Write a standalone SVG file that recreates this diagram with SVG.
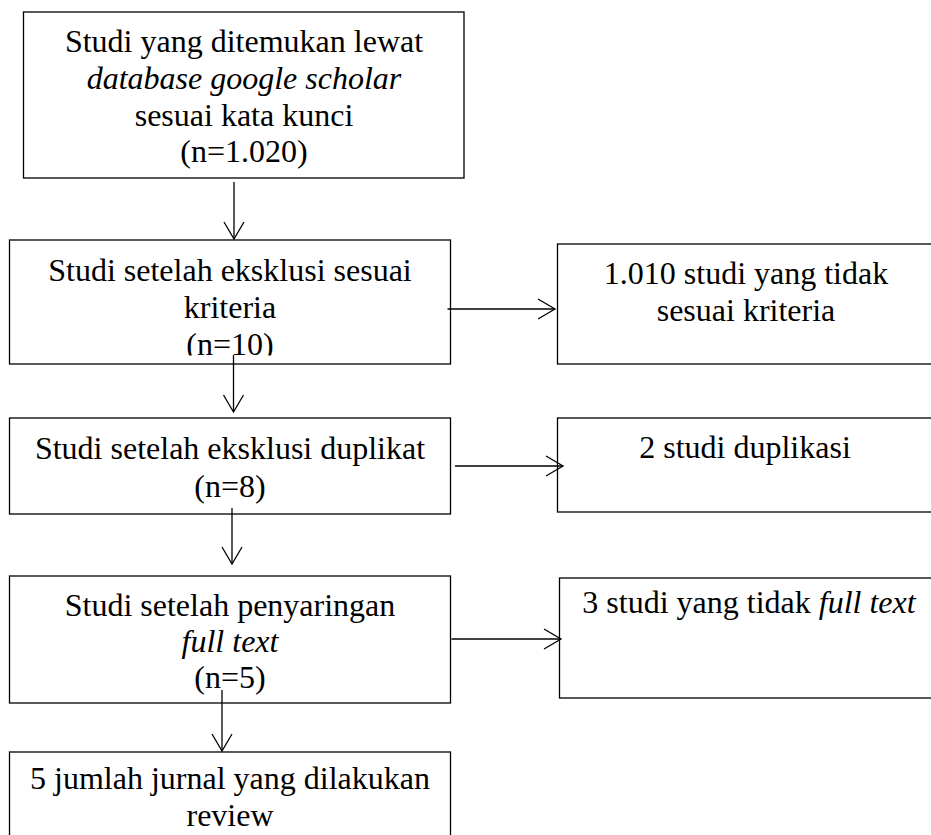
<svg xmlns="http://www.w3.org/2000/svg" width="931" height="835" viewBox="0 0 931 835">
<style>
.box{fill:#fff;stroke:#000;stroke-width:1.3}
.t{font-family:"Liberation Serif","Times New Roman",serif;font-size:32px;fill:#000;text-anchor:middle}
.i{font-style:italic}
.c{fill:none;stroke:#000;stroke-width:1.3}
</style>
<defs>
<marker id="arr" markerUnits="userSpaceOnUse" viewBox="-19 -11 21 22" refX="0" refY="0" markerWidth="21" markerHeight="22" orient="auto" overflow="visible">
<path d="M-17,-10 L0,0 L-17,10" fill="none" stroke="#000" stroke-width="1.3"/>
</marker>
<clipPath id="clip2"><rect x="9.5" y="240" width="441" height="115.5"/></clipPath>
</defs>
<rect width="931" height="835" fill="#fff"/>
<g id="n1">
<rect class="box" x="23.5" y="12" width="440.5" height="166"/>
<text class="t" x="244" y="52">Studi yang ditemukan lewat</text>
<text class="t i" x="244" y="89">database google scholar</text>
<text class="t" x="244" y="126">sesuai kata kunci</text>
<text class="t" x="244" y="162">(n=1.020)</text>
</g>
<g id="n2">
<rect class="box" x="9.5" y="240" width="441" height="124"/>
<g clip-path="url(#clip2)">
<text class="t" x="230" y="281">Studi setelah eksklusi sesuai</text>
<text class="t" x="230" y="318">kriteria</text>
<text class="t" x="230" y="355">(n=10)</text>
</g>
</g>
<g id="n3">
<rect class="box" x="9.5" y="418" width="441" height="96"/>
<text class="t" x="230" y="459">Studi setelah eksklusi duplikat</text>
<text class="t" x="230" y="497">(n=8)</text>
</g>
<g id="n4">
<rect class="box" x="9.5" y="576" width="441" height="127"/>
<text class="t" x="230" y="616">Studi setelah penyaringan</text>
<text class="t i" x="230" y="652">full text</text>
<text class="t" x="230" y="688">(n=5)</text>
</g>
<g id="n5">
<rect class="box" x="9.5" y="752" width="441" height="110"/>
<text class="t" x="230" y="789">5 jumlah jurnal yang dilakukan</text>
<text class="t" x="230" y="826">review</text>
</g>
<g id="r1">
<rect class="box" x="557.5" y="244" width="390" height="120"/>
<text class="t" x="746" y="284">1.010 studi yang tidak</text>
<text class="t" x="746" y="321">sesuai kriteria</text>
</g>
<g id="r2">
<rect class="box" x="557.5" y="418" width="390" height="94"/>
<text class="t" x="745" y="458">2 studi duplikasi</text>
</g>
<g id="r3">
<rect class="box" x="559.5" y="578" width="390" height="120"/>
<text class="t" x="749" y="613">3 studi yang tidak <tspan class="i">full text</tspan></text>
</g>
<g id="connectors">
<path class="c" d="M234,182 L234,239" marker-end="url(#arr)"/>
<path class="c" d="M233.5,355 L233.5,412" marker-end="url(#arr)"/>
<path class="c" d="M232,508 L232,564" marker-end="url(#arr)"/>
<path class="c" d="M222,690 L222,751" marker-end="url(#arr)"/>
<path class="c" d="M447.5,309 L555,309" marker-end="url(#arr)"/>
<path class="c" d="M455,466 L563,466" marker-end="url(#arr)"/>
<path class="c" d="M451.5,639 L561,639" marker-end="url(#arr)"/>
</g>
</svg>
